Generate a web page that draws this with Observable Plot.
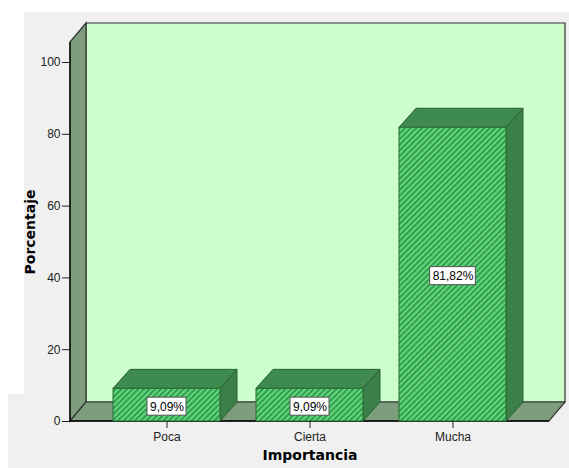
<!DOCTYPE html>
<html><head><meta charset="utf-8">
<script src="https://cdn.jsdelivr.net/npm/d3@7"></script>
<script src="https://cdn.jsdelivr.net/npm/@observablehq/plot@0.6"></script>
<style>
html,body{margin:0;padding:0;background:#fff;}
#wrap{position:relative;width:569px;height:468px;overflow:hidden;}
.bg1{position:absolute;left:24px;top:12px;width:545px;height:382px;background:#f0f0f0;}
.bg2{position:absolute;left:8px;top:394px;width:561px;height:74px;background:#f0f0f0;}
#chart{position:absolute;left:0;top:0;}
</style></head><body>
<div id="wrap"><div class="bg1"></div><div class="bg2"></div><div id="chart"></div></div>
<script>
const categories = ["Poca", "Cierta", "Mucha"];
const percentages = [9.09, 9.09, 81.82];
const yTicks = [0, 20, 40, 60, 80, 100];
const xTitle = "Importancia";
const yTitle = "Porcentaje";

const data = categories.map((c, i) => ({cat: c, pct: percentages[i]}));
const fmt = v => v.toFixed(2).replace(".", ",") + "%";
const WALL = {dx: 16, dy: 19};
const BAR = {dx: 17, dy: 19};
const svgNS = "http://www.w3.org/2000/svg";
function el(tag, attrs, parent) {
  const e = document.createElementNS(svgNS, tag);
  for (const k in attrs) e.setAttribute(k, attrs[k]);
  if (parent) parent.appendChild(e);
  return e;
}
const pts = a => a.map(p => p.join(",")).join(" ");
const bwOf = x => (x.bandwidth ? x.bandwidth() : 0);

function walls(index, scales, values, dims) {
  const g = el("g", {});
  const defs = el("defs", {}, g);
  const pat = el("pattern", {id: "hatch", patternUnits: "userSpaceOnUse", width: 4, height: 4, patternTransform: "rotate(45)"}, defs);
  el("rect", {width: 4, height: 4, fill: "#62d67a"}, pat);
  el("rect", {width: 1.8, height: 4, fill: "#2f984a"}, pat);
  const L = dims.marginLeft, R = dims.width - dims.marginRight, T = dims.marginTop, B = dims.height - dims.marginBottom;
  const dx = WALL.dx, dy = WALL.dy;
  el("polygon", {points: pts([[L + dx, T - dy], [R + dx, T - dy], [R + dx, B - dy], [L + dx, B - dy]]), fill: "#ccffcc", stroke: "#333", "stroke-width": 1.2}, g);
  el("polygon", {points: pts([[L, T], [L + dx, T - dy], [L + dx, B - dy], [L, B]]), fill: "#7d9d7d", stroke: "#333", "stroke-width": 1.2}, g);
  el("polygon", {points: pts([[L, B], [L + dx, B - dy], [R + dx, B - dy], [R, B]]), fill: "#7d9d7d", stroke: "#333", "stroke-width": 1.2}, g);
  el("line", {x1: L, y1: T, x2: L, y2: B, stroke: "#000", "stroke-width": 1.3}, g);
  el("line", {x1: L, y1: B, x2: R, y2: B, stroke: "#000", "stroke-width": 1.3}, g);
  return g;
}

function barDepth(index, scales, values, dims) {
  const {x, y} = scales;
  const bw = bwOf(x);
  const g = el("g", {});
  data.forEach(d => {
    const x0 = x(d.cat), x1 = x0 + bw, y0 = y(0), y1 = y(d.pct);
    el("polygon", {points: pts([[x1, y0], [x1, y1], [x1 + BAR.dx, y1 - BAR.dy], [x1 + BAR.dx, y0 - BAR.dy]]), fill: "#3c8049", stroke: "#2a5f34"}, g);
    el("polygon", {points: pts([[x0, y1], [x1, y1], [x1 + BAR.dx, y1 - BAR.dy], [x0 + BAR.dx, y1 - BAR.dy]]), fill: "#3f8b4f", stroke: "#2a5f34"}, g);
  });
  return g;
}

function labelBoxes(index, scales, values, dims) {
  const {x, y} = scales;
  const bw = bwOf(x);
  const g = el("g", {});
  const ctx = document.createElement("canvas").getContext("2d");
  ctx.font = "12px Arial, 'Liberation Sans', sans-serif";
  data.forEach(d => {
    const w = ctx.measureText(fmt(d.pct)).width + 5, h = 18;
    const cx = x(d.cat) + bw / 2, cy = y(d.pct / 2) + 1.5;
    el("rect", {x: cx - w / 2, y: cy - h / 2, width: w, height: h, fill: "#fff", stroke: "#555"}, g);
  });
  return g;
}

const chart = Plot.plot({
  width: 569,
  height: 468,
  marginLeft: 70,
  marginRight: 20,
  marginTop: 42,
  marginBottom: 47,
  style: {background: "transparent", fontFamily: "Arial, 'Liberation Sans', sans-serif", fontSize: "12px", color: "#222", overflow: "visible"},
  x: {type: "band", domain: categories, paddingInner: 0.25, paddingOuter: 0.29},
  y: {domain: [0, 100], range: [421, 62]},
  marks: [
    walls,
    barDepth,
    Plot.barY(data, {x: "cat", y: "pct", fill: "url(#hatch)", stroke: "#2a6a36", strokeWidth: 1}),
    labelBoxes,
    Plot.text(data, {x: "cat", y: d => d.pct / 2, text: d => fmt(d.pct), dy: 1.5, fontSize: 12, fill: "#000"}),
    Plot.axisX({tickSize: 7, tickPadding: 4, label: null, fontSize: 12}),
    Plot.axisY(yTicks, {tickSize: 8, tickPadding: 2, label: null, fontSize: 12}),
    Plot.text([yTitle], {text: d => d, frameAnchor: "left", textAnchor: "middle", dx: -40, rotate: -90, fontWeight: "bold", fontSize: 14, fontFamily: "'DejaVu Sans', sans-serif", fill: "#000"}),
    Plot.text([xTitle], {text: d => d, frameAnchor: "bottom", textAnchor: "middle", dy: 38, fontWeight: "bold", fontSize: 14, fontFamily: "'DejaVu Sans', sans-serif", fill: "#000"})
  ]
});
document.getElementById("chart").appendChild(chart);
</script>
</body></html>
